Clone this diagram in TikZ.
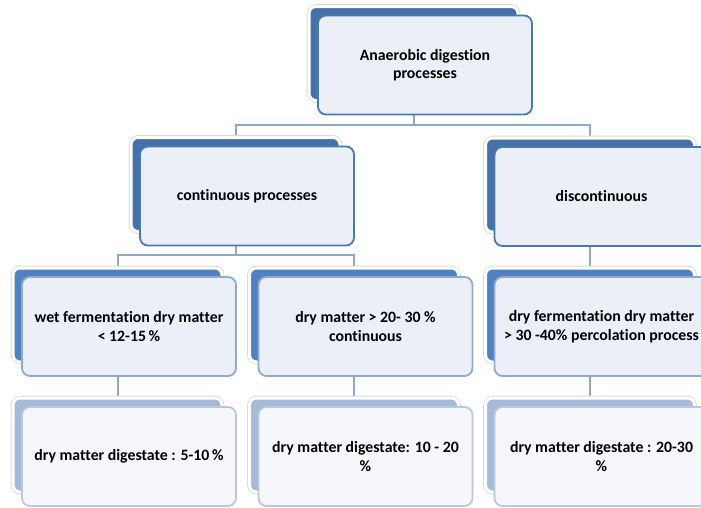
\documentclass[tikz,border=0pt]{standalone}
\usepackage{fontspec}
\setmainfont[Ligatures=NoCommon]{Carlito}
\usetikzlibrary{positioning,backgrounds}

\definecolor{backA}{HTML}{4571AA}
\definecolor{backB}{HTML}{5182C0}
\definecolor{backC}{HTML}{A7B9D9}
\definecolor{frontA}{HTML}{4A78B0}
\definecolor{frontB}{HTML}{8FA9D2}
\definecolor{frontC}{HTML}{B8C7E2}
\definecolor{paleA}{HTML}{EBEFF7}
\definecolor{paleC}{HTML}{F5F7FB}
\definecolor{linkblue}{HTML}{8EA7CF}

\tikzset{
  backbox/.style={rectangle, rounded corners=7pt, minimum width=209pt, minimum height=94pt,
    draw=white, line width=3pt, preaction={draw=black!15, line width=4.6pt}},
  frontbox/.style={rectangle, rounded corners=8pt, minimum width=214pt, minimum height=99pt,
    line width=1.8pt, align=center, text=black,
    font=\bfseries\fontsize{15.8}{18.5}\selectfont},
  lvlA/.style={fill=backA},
  lvlB/.style={fill=backB},
  lvlC/.style={fill=backC},
  faceA/.style={draw=frontA, fill=paleA},
  faceB/.style={draw=frontB, fill=paleA},
  faceC/.style={draw=frontC, fill=paleC},
  link/.style={draw=linkblue, line width=2pt}
}

\begin{document}
\begin{tikzpicture}[x=1pt, y=-1pt]
\useasboundingbox (0,0) rectangle (701,507);
\clip (0,0) rectangle (701,507);

% boxes: back panel and front card
\foreach \n/\x/\y/\lvl/\txt in {
  top/413.5/53.5/A/{Anaerobic digestion\\processes},
  cont/235.5/184.5/A/{continuous processes},
  disc/590/185/A/{discontinuous},
  wet/117.5/315/B/{wet fermentation dry matter\\< 12-15\,\%},
  drycont/354/315/B/{dry matter > 20- 30 \%\\continuous},
  drydisc/590/315/B/{dry fermentation dry matter\\> 30 -40\% percolation process},
  digwet/117.5/445/C/{dry matter digestate : 5-10\,\%},
  digcont/354/445/C/{dry matter digestate: 10 - 20\\\%},
  digdisc/590/445/C/{dry matter digestate : 20-30\\\%}} {
  \node[backbox, lvl\lvl] (b\n) at (\x,\y) {};
  \node[frontbox, face\lvl] (f\n) at ([xshift=11.5pt,yshift=-11.5pt]b\n.center) {\txt};
}

% connectors
\begin{scope}[on background layer]
\coordinate (j1) at (btop |- 0,125);
\coordinate (j2) at (bcont |- 0,255);
\draw[link] (btop) -- (j1);
\draw[link] (bcont) |- (j1) -| (bdisc);
\draw[link] (bcont) -- (j2);
\draw[link] (bwet) |- (j2) -| (bdrycont);
\draw[link] (bdisc) -- (bdrydisc);
\draw[link] (bwet) -- (bdigwet);
\draw[link] (bdrycont) -- (bdigcont);
\draw[link] (bdrydisc) -- (bdigdisc);
\end{scope}
\end{tikzpicture}
\end{document}
